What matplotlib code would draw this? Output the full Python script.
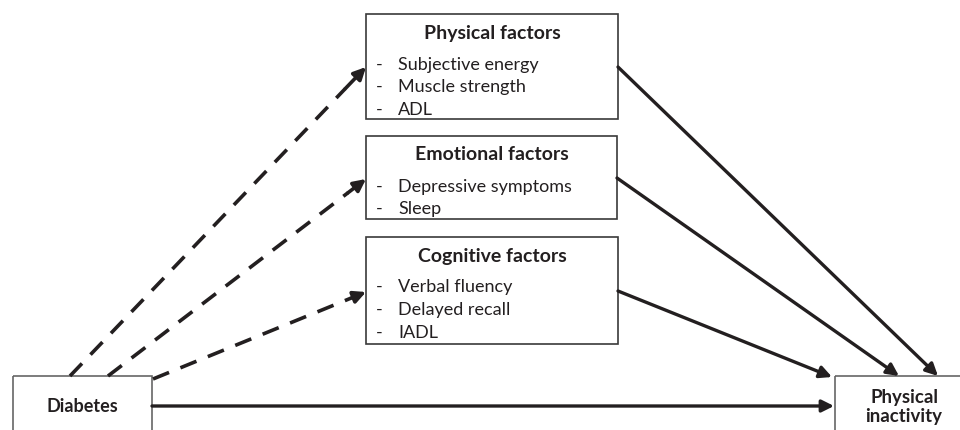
import matplotlib
matplotlib.use("Agg")
import matplotlib.pyplot as plt
from matplotlib.patches import Rectangle, FancyArrowPatch

plt.rcParams['font.family'] = ['Lato', 'DejaVu Sans']

# diagram content
factor_titles = ["Physical factors", "Emotional factors", "Cognitive factors"]
factor_items = [
    ["Subjective energy", "Muscle strength", "ADL"],
    ["Depressive symptoms", "Sleep"],
    ["Verbal fluency", "Delayed recall", "IADL"],
]
exposure = "Diabetes"
outcome = "Physical\ninactivity"

# layout (pixel coords, y down)
boxes = [(366, 15, 252, 105), (366, 137, 251, 83), (366, 238, 252, 107)]
title_y = [33, 155, 257]
item_y = [[65, 87, 110], [187, 209], [287, 310, 333]]
dash_start = [(70, 377), (108, 377), (153, 380)]
dash_end = [(366, 68), (366, 180), (366, 293)]
solid_start = [(618, 68), (617, 179), (618, 292)]
solid_end = [(938, 377), (899, 377), (832, 378)]

fig = plt.figure(figsize=(9.6, 4.31), dpi=100)
ax = fig.add_axes([0, 0, 1, 1])
ax.set_xlim(0, 960)
ax.set_ylim(431, 0)
ax.axis('off')

dark = '#231f20'
edge = '#3a3a3a'

for (x, y, w, h), title, ty, items, iy in zip(boxes, factor_titles, title_y, factor_items, item_y):
    ax.add_patch(Rectangle((x, y), w, h, fill=False, ec=edge, lw=1.2))
    ax.text(x + w / 2, ty, title, ha='center', va='center', fontsize=14,
            fontweight='bold', color=dark)
    for t, yy in zip(items, iy):
        ax.text(x + 10, yy, "-", ha='left', va='center', fontsize=13, color=dark)
        ax.text(x + 32, yy, t, ha='left', va='center', fontsize=13, color=dark)

# exposure and outcome boxes (cut off at the bottom/right)
ax.add_patch(Rectangle((13, 377), 139, 80, fill=False, ec='#666666', lw=1.2))
ax.text(82, 407, exposure, ha='center', va='center', fontsize=13,
        fontweight='bold', color=dark)
ax.add_patch(Rectangle((835, 377), 160, 80, fill=False, ec='#666666', lw=1.2))
ax.text(904, 407, outcome, ha='center', va='center', fontsize=13.4,
        fontweight='bold', color=dark, linespacing=1.15)


def head(p0, p1, lw=2.4):
    ax.add_patch(FancyArrowPatch(p0, p1, arrowstyle='-|>', mutation_scale=18,
                                 color=dark, lw=lw, shrinkA=0, shrinkB=0))


for (x0, y0), (x1, y1) in zip(dash_start, dash_end):
    f = 0.93
    xm, ym = x0 + (x1 - x0) * f, y0 + (y1 - y0) * f
    ax.plot([x0, xm], [y0, ym], color=dark, lw=2.6, dashes=(4.8, 3.4),
            solid_capstyle='butt', dash_capstyle='butt')
    head((xm, ym), (x1, y1), lw=2.6)

for p0, p1 in zip(solid_start, solid_end):
    head(p0, p1)

head((152, 407), (834, 407))

fig.savefig("out.png", dpi=100)
